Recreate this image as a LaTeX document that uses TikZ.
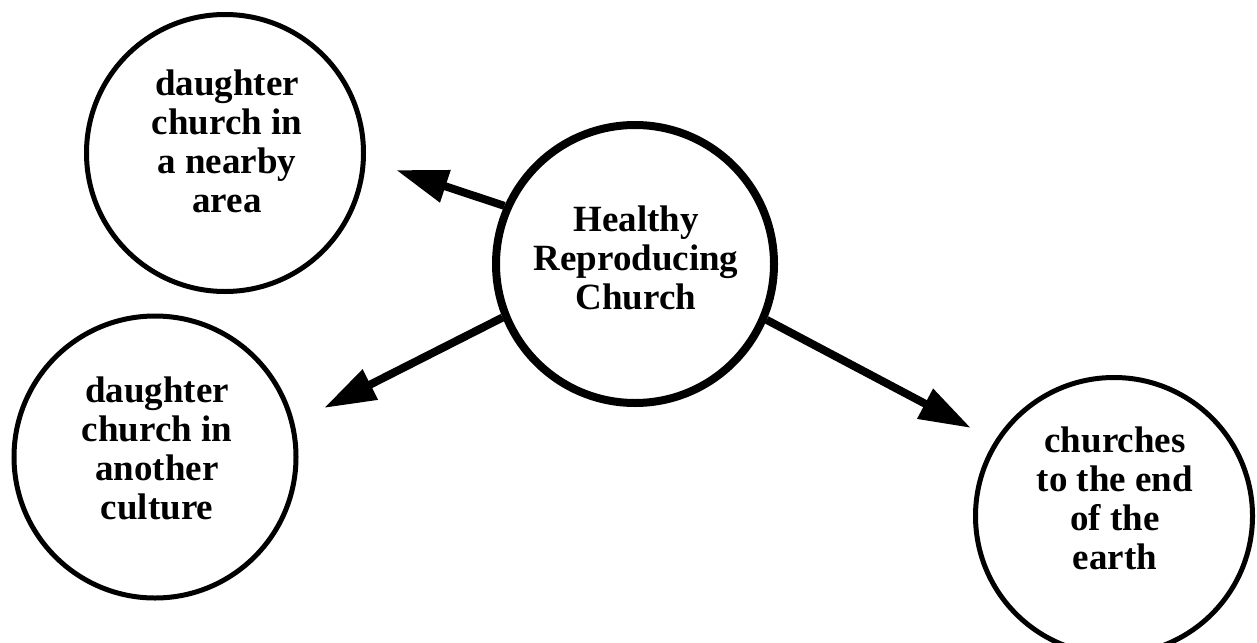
\documentclass[tikz,border=0pt]{standalone}
\usepackage{fontspec}
\setmainfont{Liberation Serif}
\usetikzlibrary{arrows.meta}
\begin{document}
\begin{tikzpicture}[x=1pt,y=-1pt,
  thin circ/.style={circle,draw,line width=5pt,inner sep=0pt},
  main circ/.style={circle,draw,line width=8pt,inner sep=0pt},
  txt/.style={align=center,inner sep=0pt,font=\fontsize{37pt}{39pt}\selectfont\bfseries},
  arr/.style={line width=8pt,-{Triangle[length=52pt,width=32pt]}}]
\useasboundingbox (0,0) rectangle (1257,642);
\node[main circ,minimum size=278pt] (c) at (635,264) {};
\node[thin circ,minimum size=277pt] (n1) at (225,153) {};
\node[thin circ,minimum size=282pt] (n2) at (155,457) {};
\node[thin circ,minimum size=277pt] (n3) at (1114,516) {};
\node[txt] (tc) at (636,258) {Healthy\\Reproducing\\Church};
\node[txt] (t1) at (227,141.5) {daughter\\church in\\a nearby\\area};
\node[txt] (t2) at (157,448) {daughter\\church in\\another\\culture};
\node[txt] (t3) at (1115,498.5) {churches\\to the end\\of the\\earth};
\coordinate (e1) at (396,170);
\coordinate (e2) at (324,408);
\coordinate (e3) at (971,428);
\draw[arr] (c.156.6) -- (e1);
\draw[arr] (c.202.2) -- (e2);
\draw[arr] (c.337.8) -- (e3);
\end{tikzpicture}
\end{document}
